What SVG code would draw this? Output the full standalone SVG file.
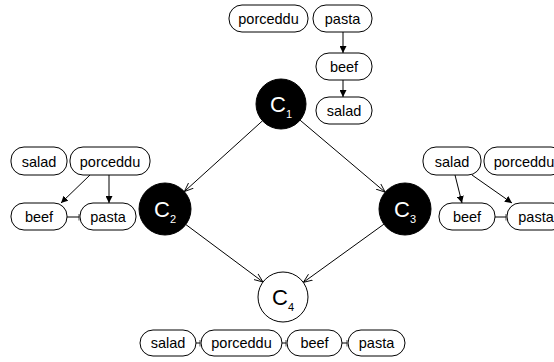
<svg xmlns="http://www.w3.org/2000/svg" width="554" height="362" viewBox="0 0 554 362">
<style>
.box rect{fill:#fff;stroke:#000;stroke-width:1}
.box text{font-family:"Liberation Sans",Arial,sans-serif;font-size:14.5px;text-anchor:middle;fill:#000}
.cl text{font-family:"Liberation Sans",Arial,sans-serif;font-size:22px;text-anchor:middle}
.cl tspan{font-size:11px}
.dark circle{fill:#000;stroke:#000}
.dark text{fill:#fff}
.light circle{fill:#fff;stroke:#000;stroke-width:1}
.light text{fill:#000}
.edge{stroke:#000;stroke-width:1;fill:none}
</style>
<defs>
<marker id="open" viewBox="0 0 10 10" refX="10" refY="5" markerWidth="9" markerHeight="9" markerUnits="userSpaceOnUse" orient="auto">
<path d="M0,1 L10,5 L0,9" fill="none" stroke="#000" stroke-width="1"/>
</marker>
<marker id="fill" viewBox="0 0 10 10" refX="10" refY="5" markerWidth="7" markerHeight="7" markerUnits="userSpaceOnUse" orient="auto">
<path d="M0,0 L10,5 L0,10 z" fill="#000"/>
</marker>
<marker id="tee" viewBox="0 0 2 10" refX="1" refY="5" markerWidth="2" markerHeight="7" markerUnits="userSpaceOnUse" orient="auto">
<path d="M1,0 L1,10" stroke="#000" stroke-width="1"/>
</marker>
</defs>

<g id="connectors">
<line class="edge" x1="262.5" y1="120.8" x2="184.3" y2="191.6" marker-end="url(#open)"/>
<line class="edge" x1="300.1" y1="120.2" x2="385.2" y2="192.2" marker-end="url(#open)"/>
<line class="edge" x1="185.8" y1="224.5" x2="263" y2="282" marker-end="url(#open)"/>
<line class="edge" x1="383.9" y1="224.2" x2="303.3" y2="282.4" marker-end="url(#open)"/>
<line class="edge" x1="343" y1="32" x2="343" y2="53" marker-end="url(#fill)"/>
<line class="edge" x1="343" y1="80" x2="343" y2="97" marker-end="url(#fill)"/>
<line class="edge" x1="90" y1="175" x2="61" y2="203" marker-end="url(#fill)"/>
<line class="edge" x1="109" y1="175" x2="109" y2="203" marker-end="url(#fill)"/>
<line class="edge" x1="67" y1="217" x2="79" y2="217" marker-end="url(#tee)"/>
<line class="edge" x1="455" y1="175" x2="462" y2="203" marker-end="url(#fill)"/>
<line class="edge" x1="472" y1="175" x2="512" y2="203" marker-end="url(#fill)"/>
<line class="edge" x1="495" y1="217" x2="506" y2="217" marker-end="url(#tee)"/>
<line class="edge" x1="196" y1="343" x2="200" y2="343" marker-end="url(#tee)"/>
<line class="edge" x1="282" y1="343" x2="286" y2="343" marker-end="url(#tee)"/>
<line class="edge" x1="342" y1="343" x2="347" y2="343" marker-end="url(#tee)"/>
</g>

<g id="top-porceddu" class="box"><rect x="229" y="5" width="79" height="27" rx="13"/><text x="268.5" y="23.5">porceddu</text></g>
<g id="top-pasta" class="box"><rect x="313" y="5" width="59" height="27" rx="13"/><text x="342.5" y="23.5">pasta</text></g>
<g id="top-beef" class="box"><rect x="316" y="53" width="56" height="27" rx="13"/><text x="344" y="71.5">beef</text></g>
<g id="top-salad" class="box"><rect x="316" y="97" width="56" height="27" rx="13"/><text x="344" y="115.5">salad</text></g>

<g id="C1" class="cl dark"><circle cx="281" cy="104" r="25"/><text x="281" y="112">C<tspan dy="6">1</tspan></text></g>
<g id="C2" class="cl dark"><circle cx="165" cy="209" r="26"/><text x="165" y="217">C<tspan dy="6">2</tspan></text></g>
<g id="C3" class="cl dark"><circle cx="405" cy="209" r="26"/><text x="405" y="217">C<tspan dy="6">3</tspan></text></g>
<g id="C4" class="cl light"><circle cx="283" cy="297" r="25"/><text x="283" y="305">C<tspan dy="6">4</tspan></text></g>

<g id="left-salad" class="box"><rect x="11" y="147" width="56" height="28" rx="13"/><text x="39" y="166.5">salad</text></g>
<g id="left-porceddu" class="box"><rect x="70" y="147" width="80" height="28" rx="13"/><text x="110" y="166.5">porceddu</text></g>
<g id="left-beef" class="box"><rect x="11" y="203" width="56" height="27" rx="13"/><text x="39" y="221.5">beef</text></g>
<g id="left-pasta" class="box"><rect x="80" y="203" width="56" height="27" rx="13"/><text x="108" y="221.5">pasta</text></g>

<g id="right-salad" class="box"><rect x="423" y="147" width="58" height="28" rx="13"/><text x="452" y="166.5">salad</text></g>
<g id="right-porceddu" class="box"><rect x="484" y="147" width="80" height="28" rx="13"/><text x="524" y="166.5">porceddu</text></g>
<g id="right-beef" class="box"><rect x="439" y="203" width="56" height="27" rx="13"/><text x="467" y="221.5">beef</text></g>
<g id="right-pasta" class="box"><rect x="507" y="203" width="58" height="27" rx="13"/><text x="536" y="221.5">pasta</text></g>

<g id="bottom-salad" class="box"><rect x="140" y="330" width="56" height="26" rx="13"/><text x="168" y="348">salad</text></g>
<g id="bottom-porceddu" class="box"><rect x="201" y="330" width="81" height="26" rx="13"/><text x="241.5" y="348">porceddu</text></g>
<g id="bottom-beef" class="box"><rect x="287" y="330" width="55" height="26" rx="13"/><text x="314.5" y="348">beef</text></g>
<g id="bottom-pasta" class="box"><rect x="348" y="330" width="57" height="26" rx="13"/><text x="376.5" y="348">pasta</text></g>
</svg>
